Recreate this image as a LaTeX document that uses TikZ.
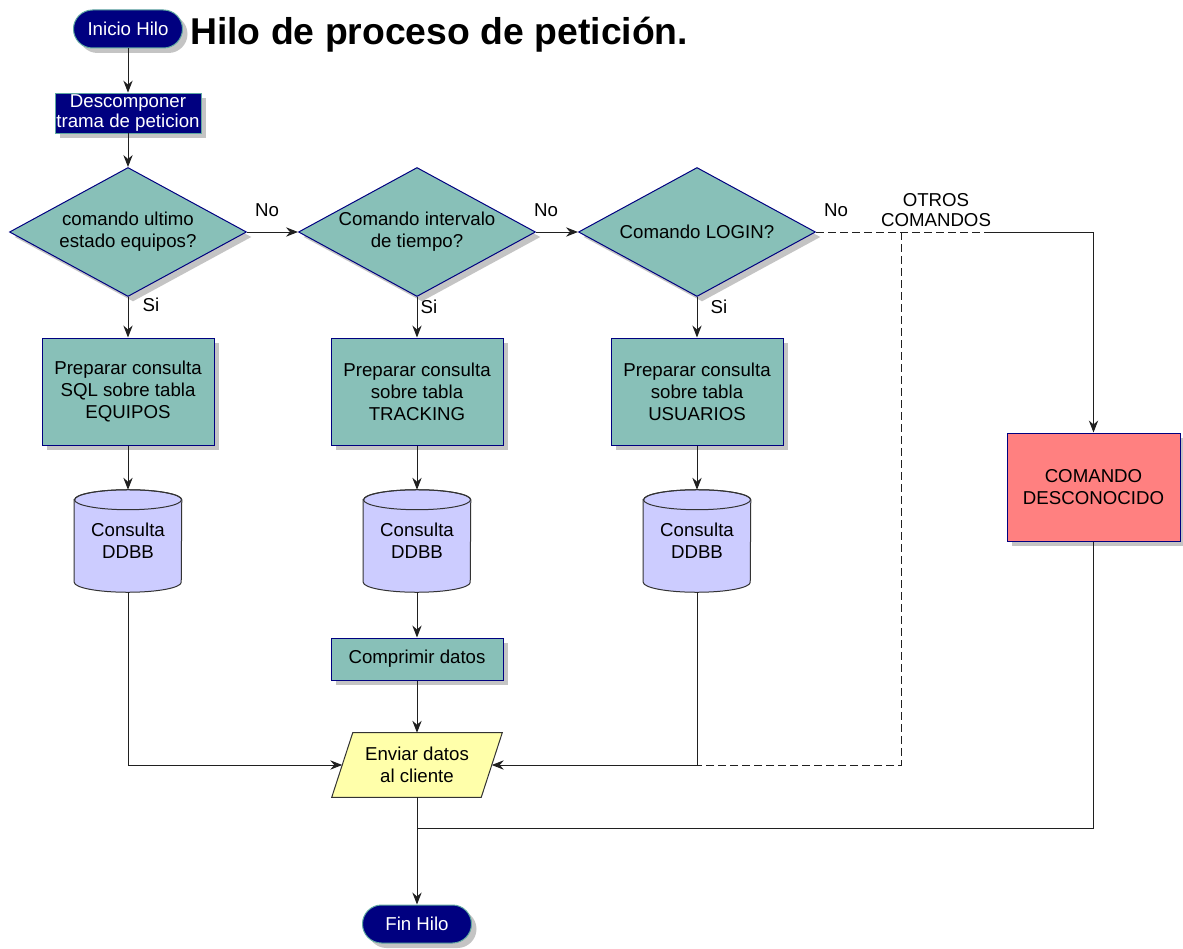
\documentclass[tikz,border=0pt]{standalone}
\usepackage{fontspec}
\setmainfont{Liberation Sans}
\usetikzlibrary{shapes.geometric,shadows,arrows.meta,calc}
\pgfdeclarelayer{background}
\pgfsetlayers{background,main}

\definecolor{navy}{HTML}{000080}
\definecolor{tealfill}{HTML}{88C0B8}
\definecolor{dbfill}{HTML}{CCCCFF}
\definecolor{iofill}{HTML}{FFFFAA}
\definecolor{errfill}{HTML}{FF8080}
\definecolor{ovalrim}{HTML}{5FA8A0}
\definecolor{shade}{HTML}{C4C4C4}
\definecolor{wire}{HTML}{202020}

\tikzset{
  every node/.style={font=\fontsize{14}{16.5}\selectfont, align=center, inner sep=0pt},
  shadowed/.style={drop shadow={shadow xshift=3.75pt, shadow yshift=-3.75pt, opacity=1, fill=shade}},
  terminal/.style={rectangle, rounded corners=14.25pt, fill=navy, draw=ovalrim, line width=0.75pt,
    text=white, minimum width=81.75pt, minimum height=28.5pt, shadowed},
  darkbox/.style={rectangle, fill=navy, draw=ovalrim, line width=0.6pt, text=white,
    font=\fontsize{14}{14.5}\selectfont, minimum width=109.5pt, minimum height=30pt, shadowed},
  decision/.style={diamond, aspect=1.84, fill=tealfill, draw=navy, line width=0.75pt,
    minimum width=177.75pt, minimum height=96.75pt, shadowed},
  process/.style={rectangle, fill=tealfill, draw=navy, line width=0.75pt,
    minimum width=129pt, minimum height=80.25pt, shadowed},
  smallprocess/.style={process, minimum height=31.5pt},
  errbox/.style={process, fill=errfill, minimum width=129.75pt, minimum height=81pt},
  dbslot/.style={rectangle, minimum width=80.25pt, minimum height=76.5pt},
  ioslot/.style={rectangle, minimum width=111.75pt, minimum height=48pt},
  dbshape/.style={fill=dbfill, draw=black!80, line width=0.75pt},
  ioshape/.style={fill=iofill, draw=black!80, line width=0.75pt},
  wireline/.style={draw=wire, line width=0.75pt},
  link/.style={wireline, -{Stealth[length=9pt,width=7pt,inset=3pt]}},
  altpath/.style={wireline, dash pattern=on 6pt off 3pt},
  lbl/.style={font=\fontsize{14}{16}\selectfont}
}

\begin{document}
\begin{tikzpicture}[x=0.75pt, y=-0.75pt]
\useasboundingbox (0,0) rectangle (1183,949);

% title and start
\node[terminal] (start) at (128,29) {Inicio Hilo};
\node[anchor=base west, font=\bfseries\fontsize{28}{30}\selectfont] (title) at (190,45) {Hilo de proceso de petición.};
\node[darkbox] (decomp) at (128,113) {Descomponer\\trama de peticion};

% decisions
\node[decision] (d1) at (128,232) {comando ultimo\\estado equipos?};
\node[decision] (d2) at (417,232) {Comando intervalo\\de tiempo?};
\node[decision] (d3) at (697,232) {Comando LOGIN?};

% query preparation
\node[process] (p1) at (128,391.5) {Preparar consulta\\SQL sobre tabla\\EQUIPOS};
\node[process] (p2) at (417,391.5) {Preparar consulta\\sobre tabla\\TRACKING};
\node[process] (p3) at (697,391.5) {Preparar consulta\\sobre tabla\\USUARIOS};

% database queries
\node[dbslot] (c1) at (128,541) {Consulta\\DDBB};
\node[dbslot] (c2) at (417,541) {Consulta\\DDBB};
\node[dbslot] (c3) at (697,541) {Consulta\\DDBB};

\node[smallprocess] (comp) at (417,659) {Comprimir datos};
\node[ioslot] (send) at (417,765) {Enviar datos\\ al cliente};
\node[errbox] (unk) at (1093.5,487) {COMANDO\\DESCONOCIDO};
\node[terminal] (fin) at (417,924) {Fin Hilo};

% cylinder and parallelogram outlines
\begin{pgfonlayer}{background}
\foreach \c in {c1,c2,c3}{
  \filldraw[dbshape] ([yshift=-7.5pt]\c.north west) -- ([yshift=7.5pt]\c.south west)
    arc[start angle=180, end angle=360, x radius=40.125pt, y radius=7.5pt]
    -- ([yshift=-7.5pt]\c.north east)
    arc[start angle=0, end angle=180, x radius=40.125pt, y radius=7.5pt] -- cycle;
  \draw[dbshape, fill=none] ([yshift=-7.5pt]\c.north) ellipse[x radius=40.125pt, y radius=7.5pt];
}
\filldraw[ioshape] ([xshift=7.875pt]send.north west) -- ([xshift=7.875pt]send.north east)
  -- ([xshift=-7.875pt]send.south east) -- ([xshift=-7.875pt]send.south west) -- cycle;
\end{pgfonlayer}

% helper points
\coordinate (split) at (901,232);
\coordinate (otros) at (985,232);
\coordinate (merge) at (c3.south |- send.east);
\coordinate (tail) at (417,828);

% connectors
\draw[link] (start) -- (decomp);
\draw[link] (decomp) -- (d1);
\draw[link] (d1.east) -- (d2.west);
\draw[link] (d2.east) -- (d3.west);
\draw[link] (d1.south) -- (p1.north);
\draw[link] (d2.south) -- (p2.north);
\draw[link] (d3.south) -- (p3.north);
\draw[link] (p1.south) -- (c1.north);
\draw[link] (p2.south) -- (c2.north);
\draw[link] (p3.south) -- (c3.north);
\draw[link] (c1.south) |- (send.west);
\draw[link] (c2.south) -- (comp.north);
\draw[link] (comp.south) -- (send.north);
\draw[link] (c3.south) |- (send.east);
\draw[altpath] (d3.east) -- (otros);
\draw[altpath] (split) |- (merge);
\draw[link] (otros) -| (unk.north);
\draw[wireline] (unk.south) |- (tail);
\draw[link] (send.south) -- (fin.north);

% branch labels
\node[lbl] (no1) at (267,210) {No};
\node[lbl] (no2) at (546,210) {No};
\node[lbl] (no3) at (836,210) {No};
\node[lbl] (si1) at (151,305) {Si};
\node[lbl] (si2) at (429,307) {Si};
\node[lbl] (si3) at (719,307) {Si};
\node[lbl, font=\fontsize{14}{14.5}\selectfont] (other) at (936,210) {OTROS\\COMANDOS};
\end{tikzpicture}
\end{document}
